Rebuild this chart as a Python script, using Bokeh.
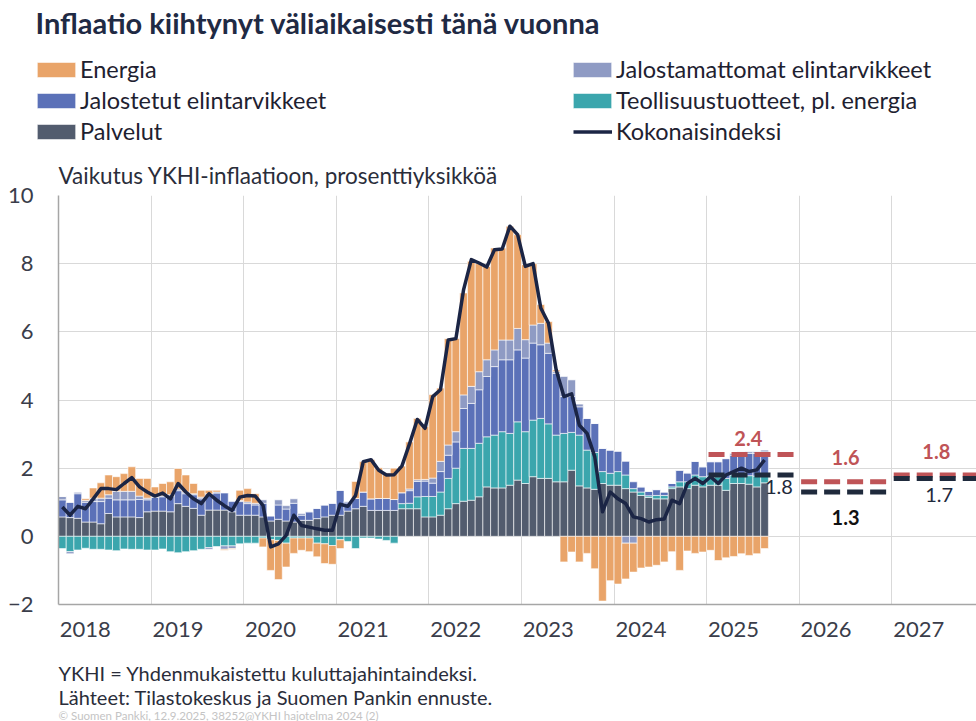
import pandas as pd
from bokeh.plotting import figure
from bokeh.layouts import column
from bokeh.models import (ColumnDataSource, Legend, LegendItem, Label, FixedTicker,
                          CustomJSTickFormatter, Range1d, Title)
from bokeh.core.properties import value
from bokeh.embed import file_html
from bokeh.resources import INLINE

# ---------------- data (contribution to HICP inflation, percentage points) -------------
months = pd.date_range("2018-01-01", periods=92, freq="MS")

palvelut = [
    0.57, 0.55, 0.53, 0.42, 0.42, 0.37, 0.67, 0.57, 0.57, 0.57, 0.55, 0.72,
    0.74, 0.74, 0.72, 0.96, 0.88, 0.82, 0.62, 0.77, 0.77, 0.77, 0.72, 0.62,
    0.62, 0.62, 0.57, 0.45, 0.50, 0.45, 0.42, 0.47, 0.47, 0.52, 0.57, 0.62,
    0.62, 0.74, 0.81, 0.88, 0.76, 0.76, 0.76, 0.76, 0.81, 0.81, 0.81, 0.57,
    0.57, 0.62, 0.81, 0.96, 1.03, 1.06, 1.16, 1.45, 1.42, 1.42, 1.50, 1.65,
    1.55, 1.75, 1.70, 1.70, 1.60, 1.60, 1.94, 1.48, 1.42, 1.38, 1.55, 1.50,
    1.50, 1.40, 1.30, 1.20, 1.14, 1.10, 1.10, 1.40, 1.45, 1.40, 1.50, 1.45,
    1.50, 1.50, 1.35, 1.55, 1.55, 1.53, 1.45, 1.57,
]
teollisuus = [
    -0.36, -0.45, -0.40, -0.35, -0.38, -0.38, -0.40, -0.42, -0.37, -0.38, -0.38, -0.40,
    -0.40, -0.37, -0.45, -0.48, -0.45, -0.42, -0.38, -0.33, -0.30, -0.28, -0.28, -0.22,
    -0.20, -0.20, -0.05, -0.10, -0.12, -0.20, -0.05, -0.05, -0.05, -0.20, -0.22, -0.27,
    -0.10, -0.15, -0.36, -0.05, -0.05, -0.08, -0.12, -0.20, 0.15, 0.16, 0.35, 0.60,
    0.60, 0.68, 0.89, 1.04, 1.55, 1.52, 1.57, 1.47, 1.55, 1.65, 1.52, 1.71,
    1.52, 1.66, 1.76, 1.60, 1.37, 1.42, 1.11, 1.49, 1.11, 1.08, 0.35, 0.35,
    0.40, 0.40, 0.10, 0.10, 0.05, 0.10, 0.10, 0.05, 0.15, 0.20, 0.30, 0.30,
    0.27, 0.25, 0.35, 0.25, 0.22, 0.25, 0.32, 0.27,
]
jalostetut = [
    0.50, 0.45, 0.72, 0.58, 0.60, 0.65, 0.45, 0.50, 0.50, 0.50, 0.53, 0.35,
    0.40, 0.42, 0.45, 0.38, 0.37, 0.40, 0.48, 0.48, 0.50, 0.50, 0.30, 0.40,
    0.34, 0.30, 0.40, 0.15, 0.42, 0.35, 0.55, 0.15, 0.25, 0.30, 0.35, 0.35,
    0.73, 0.24, 0.30, 0.42, 0.34, 0.35, 0.35, 0.32, 0.32, 0.37, 0.45, 0.45,
    0.39, 0.60, 0.68, 0.77, 1.17, 1.32, 1.57, 1.77, 2.01, 2.11, 2.16, 2.11,
    2.16, 2.26, 2.16, 2.07, 1.81, 1.08, 1.05, 0.83, 0.93, 0.85, 0.68, 0.68,
    0.60, 0.40, 0.20, 0.15, 0.13, 0.17, 0.10, 0.10, 0.34, 0.26, 0.40, 0.29,
    0.42, 0.44, 0.58, 0.58, 0.71, 0.65, 0.66, 0.64,
]
jalostamattomat = [
    0.10, -0.06, 0.05, 0.05, 0.10, 0.10, 0.10, 0.25, 0.25, 0.25, 0.10, 0.05,
    0.03, 0.03, 0.05, 0.05, 0.05, 0.03, 0.05, -0.05, 0.03, -0.10, -0.08, 0.03,
    0.05, 0.05, 0.10, 0.00, 0.15, 0.10, 0.13, 0.05, 0.00, 0.00, 0.00, 0.00,
    0.00, 0.05, 0.00, 0.00, 0.00, 0.00, 0.00, 0.00, 0.00, 0.05, 0.05, 0.05,
    0.15, 0.30, 0.30, 0.30, 0.40, 0.50, 0.53, 0.49, 0.49, 0.58, 0.58, 0.63,
    0.54, 0.53, 0.63, 0.30, 0.05, 0.59, 0.49, 0.08, 0.00, 0.00, 0.00, 0.00,
    0.00, -0.20, -0.20, 0.00, 0.00, 0.00, 0.00, 0.00, 0.00, 0.00, 0.00, 0.00,
    0.00, 0.00, 0.00, 0.05, 0.00, 0.05, 0.05, 0.05,
]
energia = [
    0.00, 0.00, 0.00, 0.05, 0.30, 0.45, 0.58, 0.43, 0.52, 0.72, 0.52, 0.58,
    0.28, 0.36, 0.38, 0.60, 0.50, 0.30, 0.20, 0.10, 0.05, -0.03, -0.02, 0.30,
    0.39, 0.28, -0.26, -0.90, -1.15, -0.70, -0.45, -0.36, -0.40, -0.40, -0.58, -0.55,
    -0.26, 0.00, 0.50, 0.89, 1.15, 0.90, 0.75, 0.92, 0.78, 1.38, 1.80, 1.55,
    2.45, 2.15, 3.12, 2.73, 2.99, 3.67, 3.17, 2.74, 2.99, 2.70, 3.34, 2.75,
    2.20, 1.80, 0.55, 0.63, 0.05, -0.75, -0.46, -0.75, -0.50, -0.95, -1.90, -1.30,
    -1.40, -1.05, -0.85, -0.93, -0.90, -0.85, -0.75, -0.45, -1.00, -0.43, -0.50, -0.46,
    -0.41, -0.71, -0.63, -0.59, -0.51, -0.56, -0.51, -0.36,
]
kokonaisindeksi = [
    0.86, 0.62, 0.88, 0.81, 1.10, 1.40, 1.40, 1.37, 1.55, 1.72, 1.45, 1.30,
    1.18, 1.27, 1.10, 1.55, 1.30, 1.10, 0.96, 1.25, 1.06, 0.90, 0.76, 1.15,
    1.20, 1.18, 0.91, -0.31, -0.22, 0.03, 0.62, 0.32, 0.27, 0.22, 0.18, 0.18,
    0.94, 0.88, 1.20, 2.19, 2.25, 1.94, 1.80, 1.81, 2.06, 2.72, 3.43, 3.17,
    4.10, 4.30, 5.76, 5.80, 7.24, 8.12, 8.02, 7.90, 8.41, 8.43, 9.10, 8.85,
    7.92, 8.00, 6.70, 6.25, 4.88, 4.10, 4.18, 3.26, 3.02, 2.33, 0.72, 1.30,
    1.10, 0.96, 0.57, 0.52, 0.42, 0.49, 0.51, 1.06, 0.96, 1.55, 1.70, 1.55,
    1.75, 1.55, 1.80, 1.90, 2.00, 1.90, 1.95, 2.24,
]

# Forecasts (annual averages)
ennuste_vuodet = [2025, 2026, 2027]
ennuste_aiempi = [2.4, 1.6, 1.8]     # red dashed
ennuste_uusi = [1.8, 1.3, 1.7]       # dark dashed
year_ticks = list(range(2018, 2028))

# ---------------- styling --------------------------------------------------------------
FONT = "Lato"
TXT = "#2a2d3a"
RED = "#bf5457"
DARK = "#1f2a3c"
LINE = "#1b2545"
series = [
    ("Palvelut", palvelut, "#525c6e"),
    ("Teollisuustuotteet, pl. energia", teollisuus, "#3ba6ad"),
    ("Jalostetut elintarvikkeet", jalostetut, "#5b71b8"),
    ("Jalostamattomat elintarvikkeet", jalostamattomat, "#8f9bc4"),
    ("Energia", energia, "#e9a469"),
]
W = 976


def text_panel(height, y_top):
    f = figure(width=W, height=height, x_range=Range1d(0, W),
               y_range=Range1d(y_top + height, y_top), output_backend="svg",
               toolbar_location=None, x_axis_type=None, y_axis_type=None,
               min_border=0, outline_line_color=None, border_fill_color="white",
               background_fill_color="white")
    f.grid.visible = False
    try:
        f.frame_align = False
    except Exception:
        pass
    return f


def add_label(fig, text, x, y, size, color=TXT, style="normal"):
    fig.add_layout(Label(x=x, y=y, text=text, text_font=FONT, text_font_size=size,
                         text_color=color, text_font_style=style, text_baseline="middle"))


# ---------------- header: title + legend ----------------------------------------------
HEAD = 150
head = text_panel(HEAD, 0)
add_label(head, "Inflaatio kiihtynyt väliaikaisesti tänä vuonna", 35, 22, "29px", "#1f2a44", "bold")

# legend proxies (single point far outside the visible area)
dummy = {}
for name, _, c in series:
    dummy[name] = head.vbar(x=[-1000], top=[0], bottom=[0], width=1, fill_color=c,
                            line_color="white", line_width=0.6)
dummy["Kokonaisindeksi"] = head.line(x=[-1000, -999], y=[0, 0], line_color=LINE, line_width=3.5)


def make_legend(names, vx, vy, glyph_width=48, standoff=0):
    lg = Legend(items=[LegendItem(label=n, renderers=[dummy[n]]) for n in names],
                location=(vx, vy), orientation="vertical",
                glyph_width=glyph_width, glyph_height=19, label_height=28, spacing=3,
                label_standoff=standoff, padding=0, margin=0, border_line_color=None,
                background_fill_alpha=0, label_text_font=FONT,
                label_text_font_size="23.5px", label_text_color="#1e2130")
    head.add_layout(lg, "center")


make_legend(["Energia", "Jalostetut elintarvikkeet", "Palvelut"], 32, 5)
make_legend(["Jalostamattomat elintarvikkeet", "Teollisuustuotteet, pl. energia"], 568, 36)
make_legend(["Kokonaisindeksi"], 573, 5, glyph_width=39, standoff=4)

# ---------------- main chart ----------------------------------------------------------
xm = [d.year + (d.month - 0.5) / 12 for d in months]

p = figure(width=W, height=650 - HEAD, x_range=Range1d(2018, 2027.914), y_range=Range1d(-2, 10),
           output_backend="svg", toolbar_location=None,
           min_border_left=58, min_border_right=0, min_border_top=195 - HEAD, min_border_bottom=46,
           outline_line_color=None, background_fill_color="white", border_fill_color="white")
p.title = Title(text="Vaikutus YKHI-inflaatioon, prosenttiyksikköä", align="left",
                text_font=FONT, text_font_size="22.5px", text_font_style="normal",
                text_color=TXT, standoff=13, offset=0)

pos = [0.0] * len(xm)
neg = [0.0] * len(xm)
for name, vals, color in series:
    tops, bottoms = [], []
    for i, v in enumerate(vals):
        if v >= 0:
            bottoms.append(pos[i]); tops.append(pos[i] + v); pos[i] += v
        else:
            tops.append(neg[i]); bottoms.append(neg[i] + v); neg[i] += v
    src = ColumnDataSource(dict(x=xm, top=tops, bottom=bottoms))
    p.vbar(x="x", top="top", bottom="bottom", width=1 / 12, source=src,
           fill_color=color, line_color="white", line_width=0.6)

p.line(xm, kokonaisindeksi, line_color=LINE, line_width=3.5, line_join="round")

p.segment(x0=[y + 0.02 for y in ennuste_vuodet], x1=[y + 0.96 for y in ennuste_vuodet],
          y0=ennuste_aiempi, y1=ennuste_aiempi, line_color=RED, line_width=5, line_dash="16 7")
p.segment(x0=[y + 0.02 for y in ennuste_vuodet], x1=[y + 0.96 for y in ennuste_vuodet],
          y0=ennuste_uusi, y1=ennuste_uusi, line_color=DARK, line_width=5, line_dash="16 7")

lab_red = ColumnDataSource(dict(
    x=[y + dx for y, dx in zip(ennuste_vuodet, [0.45, 0.5, 0.48])],
    y=ennuste_aiempi, text=[f"{v:.1f}" for v in ennuste_aiempi], yo=[-16, -24, -23]))
p.text(x="x", y="y", text="text", y_offset="yo", source=lab_red, text_align="center",
       text_baseline="middle", text_font=value(FONT), text_font_size="20px",
       text_font_style="bold", text_color=RED)
lab_dark = ColumnDataSource(dict(
    x=[y + dx for y, dx in zip(ennuste_vuodet, [0.78, 0.5, 0.51])],
    y=ennuste_uusi, text=[f"{v:.1f}" for v in ennuste_uusi], yo=[12, 25, 17],
    fs=["normal", "bold", "normal"], col=[DARK, "#111111", DARK]))
p.text(x="x", y="y", text="text", y_offset="yo", source=lab_dark, text_align="center",
       text_baseline="middle", text_font=value(FONT), text_font_size="20px",
       text_font_style="fs", text_color="col")

p.xgrid.ticker = FixedTicker(ticks=year_ticks[1:])
p.ygrid.ticker = FixedTicker(ticks=list(range(-2, 11, 2)))
p.grid.grid_line_color = "#d9d9d9"
p.grid.grid_line_width = 1

p.yaxis.ticker = FixedTicker(ticks=list(range(-2, 11, 2)))
p.yaxis.major_label_overrides = {-2: "\u22122"}
p.xaxis.ticker = FixedTicker(ticks=[y + 0.29 for y in year_ticks])
p.xaxis.formatter = CustomJSTickFormatter(code="return String(Math.floor(tick));")
for ax in (p.xaxis[0], p.yaxis[0]):
    ax.axis_line_color = "#a6a6a6"
    ax.axis_line_width = 1.5
    ax.major_tick_line_color = None
    ax.major_tick_out = 0
    ax.major_tick_in = 0
    ax.minor_tick_line_color = None
    ax.minor_tick_out = 0
    ax.major_label_text_font = FONT
    ax.major_label_text_font_size = "22px"
    ax.major_label_text_color = "#3a3d4a"
p.yaxis.major_label_standoff = 25
p.xaxis.major_label_standoff = 17

# ---------------- footer --------------------------------------------------------------
foot = text_panel(721 - 650, 650)
add_label(foot, "YKHI = Yhdenmukaistettu kuluttajahintaindeksi.", 58, 672, "20px")
add_label(foot, "Lähteet: Tilastokeskus ja Suomen Pankin ennuste.", 58, 696, "20px")
add_label(foot, "© Suomen Pankki, 12.9.2025, 38252@YKHI hajotelma 2024 (2)", 58, 714.5, "11.5px", "#c4c4c4")

layout = column(head, p, foot, spacing=0)
open("out.html", "w").write(file_html(layout, INLINE))
